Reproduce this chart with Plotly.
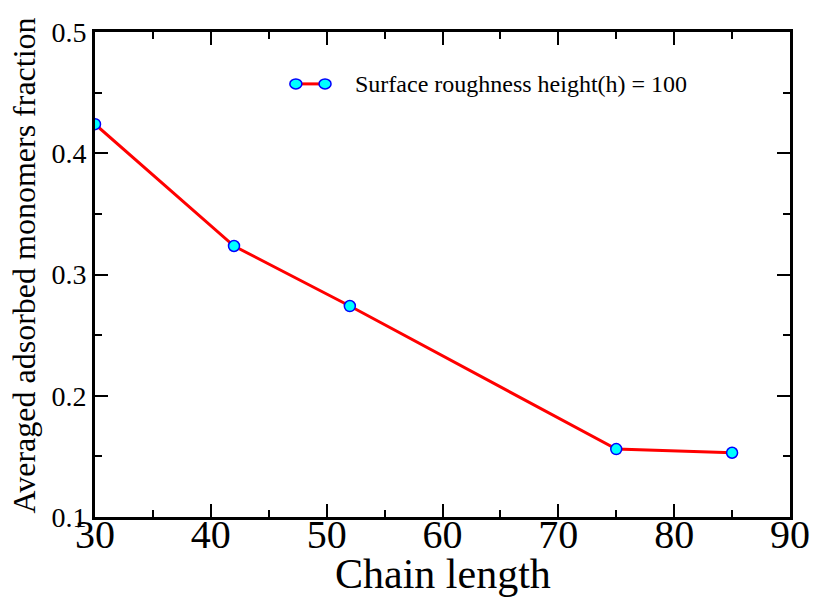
import plotly.graph_objects as go

# Adsorption data: chain length vs averaged adsorbed monomer fraction
chain_length = [30, 42, 52, 75, 85]
adsorbed_fraction = [0.424, 0.3235, 0.274, 0.156, 0.153]
series_name = "Surface roughness height(h) = 100"
x_title = "Chain length"
y_title = "Averaged adsorbed monomers fraction"

x_ticks = [30, 40, 50, 60, 70, 80, 90]
y_ticks = [0.1, 0.2, 0.3, 0.4, 0.5]

LINE_RED = "#ff0000"
FILL_CYAN = "#00ffff"
EDGE_BLUE = "#0000ff"
FONT = "'Liberation Serif', 'Times New Roman', Times, serif"

fig = go.Figure()
fig.add_trace(go.Scatter(
    x=chain_length, y=adsorbed_fraction, mode="lines+markers",
    name=series_name, showlegend=False,
    line=dict(color=LINE_RED, width=3),
    marker=dict(symbol="circle", size=11, color=FILL_CYAN,
                line=dict(color=EDGE_BLUE, width=1.5)),
))

axis_common = dict(
    showline=True, linecolor="black", linewidth=3, mirror="ticks",
    ticks="inside", ticklen=13, tickwidth=1.5, tickcolor="black",
    showgrid=False, zeroline=False, automargin=False,
    minor=dict(ticks="inside", ticklen=7, tickwidth=1.5, tickcolor="black"),
)

fig.update_xaxes(
    range=[30, 90], tickvals=x_ticks, ticktext=[str(v) for v in x_ticks],
    tickfont=dict(family=FONT, size=40, color="black"),
    ticklabelstandoff=-20,
    **axis_common,
)
fig.update_xaxes(minor_dtick=5)
fig.update_yaxes(
    range=[0.1, 0.5], tickvals=y_ticks, ticktext=[f"{v:.1f}" for v in y_ticks],
    tickfont=dict(family=FONT, size=28, color="black"),
    **axis_common,
)
fig.update_yaxes(minor_dtick=0.05)

# Legend sample: line segment with a marker at each end, then the label
leg_y = 0.893
leg_x0, leg_x1 = 0.289, 0.331
shapes = [dict(type="line", xref="paper", yref="paper",
               x0=leg_x0, x1=leg_x1, y0=leg_y, y1=leg_y,
               line=dict(color=LINE_RED, width=3))]
for lx in (leg_x0, leg_x1):
    shapes.append(dict(type="circle", xref="paper", yref="paper",
                       xsizemode="pixel", ysizemode="pixel",
                       xanchor=lx, yanchor=leg_y,
                       x0=-6, x1=6, y0=-5, y1=5,
                       fillcolor=FILL_CYAN, line=dict(color=EDGE_BLUE, width=1.5)))

annotations = [
    dict(text=series_name, xref="paper", yref="paper",
         x=0.371, y=leg_y, xanchor="left", yanchor="middle", showarrow=False,
         font=dict(family=FONT, size=24, color="black")),
    # axis titles
    dict(text=x_title, xref="paper", yref="paper",
         x=0.5, y=0, xanchor="center", yanchor="middle", yshift=-57,
         showarrow=False, font=dict(family=FONT, size=42, color="black")),
    dict(text=y_title, xref="paper", yref="paper", textangle=-90,
         x=0, y=0.5, xanchor="center", yanchor="middle", xshift=-72, yshift=9,
         showarrow=False, font=dict(family=FONT, size=32, color="black")),
]

fig.update_layout(
    width=814, height=603,
    margin=dict(l=95, r=24, t=32, b=86),
    paper_bgcolor="white", plot_bgcolor="white",
    shapes=shapes,
    annotations=annotations,
)

fig.write_html("out.html")
